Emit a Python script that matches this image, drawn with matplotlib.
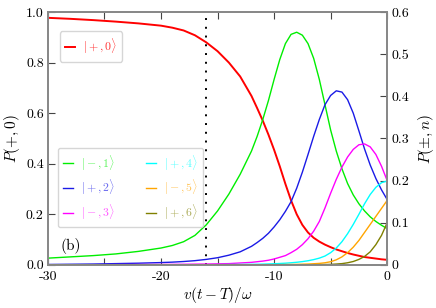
import matplotlib
matplotlib.use("Agg")
import matplotlib.pyplot as plt
from matplotlib.ticker import MultipleLocator

plt.rcParams['font.family'] = 'serif'
plt.rcParams['font.serif'] = ['cmr10', 'DejaVu Serif']
plt.rcParams['mathtext.fontset'] = 'cm'
plt.rcParams['axes.unicode_minus'] = False
plt.rcParams['axes.formatter.use_mathtext'] = True

x_vals = [-30, -28, -26, -24, -22, -20, -19, -18, -17, -16, -15, -14, -13, -12, -11.5, -11,
          -10.5, -10, -9.5, -9, -8.5, -8, -7.5, -7, -6.5, -6, -5.5, -5, -4.5, -4, -3.5, -3,
          -2.5, -2, -1.5, -1, -0.5, 0]

p_plus0 = [0.977, 0.973, 0.968, 0.962, 0.955, 0.946, 0.938, 0.927, 0.908, 0.88, 0.845, 0.80,
           0.745, 0.668, 0.62, 0.57, 0.515, 0.455, 0.39, 0.32, 0.255, 0.20, 0.158, 0.128,
           0.107, 0.092, 0.08, 0.07, 0.061, 0.054, 0.047, 0.041, 0.036, 0.031, 0.028, 0.025,
           0.022, 0.02]
p_minus1 = [0.016, 0.019, 0.022, 0.026, 0.032, 0.040, 0.046, 0.055, 0.070, 0.095, 0.128, 0.168,
            0.215, 0.27, 0.305, 0.345, 0.39, 0.44, 0.487, 0.525, 0.547, 0.552, 0.545, 0.525,
            0.49, 0.44, 0.38, 0.32, 0.27, 0.228, 0.193, 0.166, 0.145, 0.128, 0.114, 0.103,
            0.094, 0.086]
p_plus2 = [0.001, 0.0015, 0.002, 0.003, 0.004, 0.0055, 0.0065, 0.008, 0.010, 0.013, 0.017, 0.023,
           0.031, 0.044, 0.053, 0.063, 0.075, 0.09, 0.107, 0.127, 0.15, 0.182, 0.22, 0.262,
           0.305, 0.345, 0.38, 0.402, 0.413, 0.41, 0.392, 0.36, 0.318, 0.275, 0.237, 0.205,
           0.178, 0.155]
p_minus3 = [0.0003, 0.0004, 0.0005, 0.0006, 0.0008, 0.001, 0.0012, 0.0014, 0.0017, 0.002, 0.0025,
            0.003, 0.0045, 0.006, 0.0075, 0.009, 0.011, 0.014, 0.018, 0.022, 0.029, 0.037, 0.048,
            0.062, 0.08, 0.103, 0.135, 0.17, 0.203, 0.232, 0.256, 0.274, 0.285, 0.287, 0.28,
            0.262, 0.234, 0.2]
p_plus4 = [0.0001, 0.0001, 0.0001, 0.0002, 0.0002, 0.0003, 0.0003, 0.0004, 0.0004, 0.0005, 0.0006,
           0.0008, 0.001, 0.0013, 0.0015, 0.0018, 0.0022, 0.0027, 0.0033, 0.004, 0.005, 0.0062,
           0.0078, 0.0098, 0.0125, 0.016, 0.021, 0.029, 0.04, 0.055, 0.074, 0.096, 0.12, 0.145,
           0.167, 0.184, 0.195, 0.199]
p_minus5 = [0.0, 0.0, 0.0, 0.0, 0.0, 0.0001, 0.0001, 0.0001, 0.0001, 0.0001, 0.0002, 0.0002,
            0.0003, 0.0003, 0.0004, 0.0004, 0.0005, 0.0005, 0.0006, 0.0008, 0.001, 0.0012, 0.0016,
            0.002, 0.0027, 0.0035, 0.005, 0.0075, 0.012, 0.019, 0.029, 0.042, 0.058, 0.077,
            0.096, 0.115, 0.134, 0.153]
p_plus6 = [0.0, 0.0, 0.0, 0.0, 0.0, 0.0, 0.0, 0.0, 0.0, 0.0, 0.0, 0.0, 0.0, 0.0, 0.0, 0.0,
           0.0001, 0.0001, 0.0001, 0.0001, 0.0002, 0.0002, 0.0003, 0.0004, 0.0005, 0.0005,
           0.0008, 0.0012, 0.002, 0.003, 0.005, 0.008, 0.013, 0.02, 0.031, 0.048, 0.07, 0.1]

labels_right = [r'$|-,1\rangle$', r'$|+,2\rangle$', r'$|-,3\rangle$',
                r'$|+,4\rangle$', r'$|-,5\rangle$', r'$|+,6\rangle$']
series_right = [p_minus1, p_plus2, p_minus3, p_plus4, p_minus5, p_plus6]
colors_right = ['#00ee00', '#1a1ae6', '#ff00ff', '#00ffff', '#ffa500', '#808000']

x_ticks = [-30, -20, -10, 0]
x_ticklabels = ['-30', '-20', '-10', '0']
yl_ticks = [0.0, 0.2, 0.4, 0.6, 0.8, 1.0]
yl_ticklabels = ['0.0', '0.2', '0.4', '0.6', '0.8', '1.0']
yr_ticks = [0.0, 0.1, 0.2, 0.3, 0.4, 0.5, 0.6]
yr_ticklabels = ['0', '0.1', '0.2', '0.3', '0.4', '0.5', '0.6']
t_marker = -16

fig = plt.figure(figsize=(4.36, 3.08), dpi=100)
ax1 = fig.add_axes([0.110, 0.140, 0.778, 0.821])
ax2 = ax1.twinx()

spine_c = '#888888'
fs = 10

l0, = ax1.plot(x_vals, p_plus0, color='#ff0000', lw=1.4, label=r'$|+,0\rangle$')
ax1.axvline(t_marker, color='black', ls=(0, (1, 3.5)), lw=1.4)
ax1.set_xlim(-30, 0)
ax1.set_ylim(0, 1)
ax1.set_xticks(x_ticks)
ax1.set_xticklabels(x_ticklabels)
ax1.xaxis.set_minor_locator(MultipleLocator(5))
ax1.set_yticks(yl_ticks)
ax1.set_yticklabels(yl_ticklabels)
ax1.tick_params(axis='x', which='both', direction='in', top=True, length=5, width=0.8,
                color='#444444', labelsize=fs, pad=4)
ax1.tick_params(axis='y', direction='in', length=5, width=0.8, color='#444444',
                labelsize=fs, pad=3)
ax1.set_xlabel(r'$v(t-T)/\omega$', fontsize=11, labelpad=2)
ax1.set_ylabel(r'$P(+,0)$', fontsize=11, labelpad=3)

lines = []
for y, c, lab in zip(series_right, colors_right, labels_right):
    ln, = ax2.plot(x_vals, y, color=c, lw=1.0, label=lab)
    lines.append(ln)
ax2.set_ylim(0, 0.6)
ax2.set_yticks(yr_ticks)
ax2.set_yticklabels(yr_ticklabels)
ax2.tick_params(axis='y', direction='in', length=5, width=0.8, color='#444444',
                labelsize=fs, pad=3)
ax2.set_ylabel(r'$P(\pm,n)$', fontsize=11, labelpad=5)

for ax in (ax1, ax2):
    for s in ax.spines.values():
        s.set_color(spine_c)
        s.set_linewidth(1.3)

leg_kw = dict(fontsize=8.5, handlelength=0.8, handletextpad=0.7, borderpad=0.45,
              fancybox=True, framealpha=0.8, edgecolor='#cccccc', labelcolor='linecolor',
              borderaxespad=0.0)
leg1 = ax2.legend([l0], [r'$|+,0\rangle$'], loc='upper left', bbox_to_anchor=(0.035, 0.923),
                  **leg_kw)
ax2.add_artist(leg1)
leg2 = ax2.legend(lines, labels_right, ncol=2, loc='upper left',
                  bbox_to_anchor=(0.03, 0.463), columnspacing=2.6, labelspacing=0.45,
                  **leg_kw)
for t in leg1.get_texts():
    t.set_alpha(0.8)
for t in leg2.get_texts():
    t.set_alpha(0.65)

ax1.text(-28.85, 0.06, '(b)', fontsize=11)

fig.savefig('out.png', dpi=100)
